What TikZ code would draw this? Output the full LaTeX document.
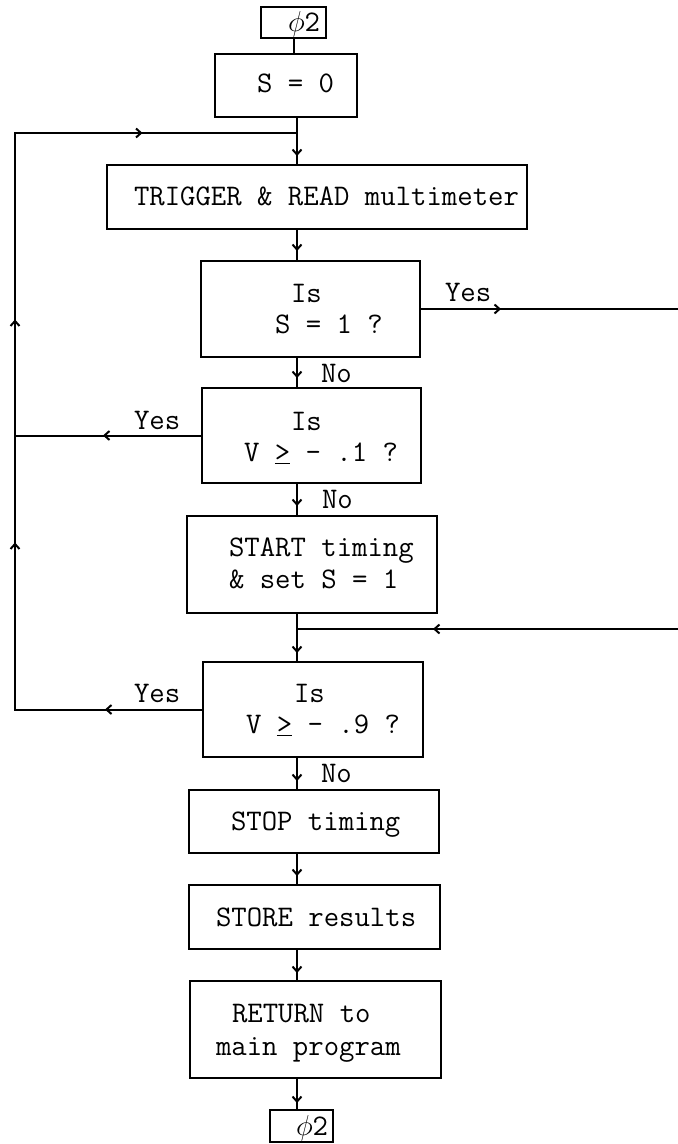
\documentclass[tikz,border=0pt]{standalone}
\usetikzlibrary{arrows.meta,decorations.markings,fit}
% a >= sign typed the typewriter way: ">" with an underline
\newcommand\tge{\underline{>}}
\begin{document}
\begin{tikzpicture}[x=0.5pt,y=-0.5pt,line width=1pt,
  box/.style={draw,inner sep=0pt},
  txt/.style={anchor=base west,inner sep=0pt,
    font=\ttfamily\fontsize{14.95}{15.5}\selectfont},
  tip/.style={postaction={decorate,decoration={markings,
    mark=at position #1 with {\arrow{Straight Barb[length=2.5pt,width=4.5pt]}}}}}]
\useasboundingbox (0,0) rectangle (678,1144);

% boxes
\node[box,fit={(261,7) (326,38)}]    (phiT)  {};
\node[box,fit={(215,54) (357,117)}]  (s0)    {};
\node[box,fit={(107,165) (527,229)}] (trig)  {};
\node[box,fit={(201,261) (420,357)}] (isS1)  {};
\node[box,fit={(202,388) (421,483)}] (isV1)  {};
\node[box,fit={(187,516) (437,613)}] (start) {};
\node[box,fit={(203,662) (423,757)}] (isV9)  {};
\node[box,fit={(189,790) (439,853)}] (stop)  {};
\node[box,fit={(189,885) (440,949)}] (store) {};
\node[box,fit={(190,981) (441,1078)}] (ret)  {};
\node[box,fit={(270,1110) (333,1142)}] (phiB) {};

% box texts
\node[txt] (tPhiT)  at (287,32)  {$\phi$2};
\node[txt] (tS0)    at (256,93)  {S = 0};
\node[txt] (tTrig)  at (133,206) {TRIGGER \& READ multimeter};
\node[txt] (tS1a)   at (290,303) {Is};
\node[txt] (tS1b)   at (274,334) {S = 1 ?};
\node[txt] (tV1a)   at (290,430) {Is};
\node[txt] (tV1b)   at (243,461) {V \tge{} - .1 ?};
\node[txt] (tStA)   at (228,556) {START timing};
\node[txt] (tStB)   at (228,588) {\& set S = 1};
\node[txt] (tV9a)   at (293,702) {Is};
\node[txt] (tV9b)   at (245,733) {V \tge{} - .9 ?};
\node[txt] (tStop)  at (230,830) {STOP timing};
\node[txt] (tStore) at (215,926) {STORE results};
\node[txt] (tRetA)  at (231,1022) {RETURN to};
\node[txt] (tRetB)  at (215,1055) {main program};
\node[txt] (tPhiB)  at (295,1135) {$\phi$2};

% branch labels
\node[txt] (yes1) at (444,302) {Yes};
\node[txt] (yes2) at (133,429) {Yes};
\node[txt] (yes3) at (133,702) {Yes};
\node[txt] (no1)  at (320,382) {No};
\node[txt] (no2)  at (321,508) {No};
\node[txt] (no3)  at (320,782) {No};

% helper positions: main spine, left loop, right edge, junctions
\coordinate (sp) at (297,0);
\coordinate (lx) at (15,0);
\coordinate (rx) at (678,0);
\coordinate (j1) at (297,133);
\coordinate (j2) at (297,629);

% main flow
\draw (phiT.south) -- (phiT.south |- s0.north);
\draw[tip=19pt]   (s0.south -| sp)    -- (trig.north -| sp);
\draw[tip=10.5pt] (trig.south -| sp)  -- (isS1.north -| sp);
\draw[tip=10pt]   (isS1.south -| sp)  -- (isV1.north -| sp);
\draw[tip=11pt]   (isV1.south -| sp)  -- (start.north -| sp);
\draw[tip=19.5pt] (start.south -| sp) -- (isV9.north -| sp);
\draw[tip=11.5pt] (isV9.south -| sp)  -- (stop.north -| sp);
\draw[tip=11pt]   (stop.south -| sp)  -- (store.north -| sp);
\draw[tip=11.5pt] (store.south -| sp) -- (ret.north -| sp);
\draw[tip=12pt]   (ret.south -| sp)   -- (phiB.north -| sp);

% S = 1 branch leaves to the right, and comes back above the last test
\draw[tip=40pt] (isS1.east) -- (isS1.east -| rx);
\draw[tip=122.5pt] (j2 -| rx) -- (j2);

% loop back to the reading step
\draw[tip=49pt] (isV1.west) -- (isV1.west -| lx);
\draw[tip=48.5pt,tip=177pt,tip=288.5pt,tip=445.5pt]
  (isV9.west) -- (isV9.west -| lx) -- (j1 -| lx) -- (j1);
\end{tikzpicture}
\end{document}
